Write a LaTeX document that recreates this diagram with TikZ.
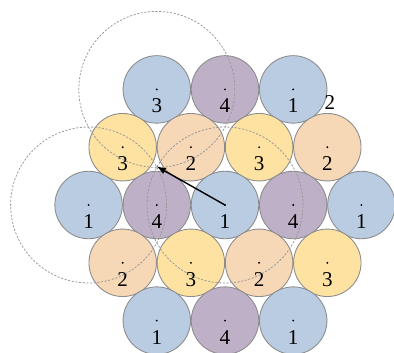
\documentclass[tikz,border=0pt]{standalone}
\usepackage{fontspec}
\setmainfont{Liberation Serif}
\definecolor{ballblue}{RGB}{186,204,226}
\definecolor{ballpurple}{RGB}{190,176,198}
\definecolor{ballyellow}{RGB}{254,226,162}
\definecolor{ballpeach}{RGB}{246,215,182}

\begin{document}
\begin{tikzpicture}[x=0.02cm,y=0.02cm]
\tikzstyle{ball}=[circle,draw=black!45,line width=0.5pt,minimum size=1.35cm,inner sep=0pt,
    font=\fontsize{12}{14}\selectfont,text height=0.94cm,text depth=0pt,
    path picture={\fill[black] (path picture bounding box.center) circle (0.6pt);}]
\tikzstyle{blueball}=[ball,fill=ballblue]
\tikzstyle{purpleball}=[ball,fill=ballpurple]
\tikzstyle{yellowball}=[ball,fill=ballyellow]
\tikzstyle{peachball}=[ball,fill=ballpeach]
\tikzstyle{guide}=[draw=black!40,dash pattern=on 1.2pt off 0.9pt,line width=0.45pt]
\useasboundingbox (-225,-147) rectangle (169,205);
% top row
\node[blueball] (a1) at (-68.2,115.6) {3};
\node[purpleball] (a2) at (0,115.6) {4};
\node[blueball] (a3) at (68.2,115.6) {1};
% second row
\node[yellowball] (b1) at (-102.3,57.8) {3};
\node[peachball] (b2) at (-34.1,57.8) {2};
\node[yellowball] (b3) at (34.1,57.8) {3};
\node[peachball] (b4) at (102.3,57.8) {2};
% middle row
\node[blueball] (c1) at (-136.4,0) {1};
\node[purpleball] (c2) at (-68.2,0) {4};
\node[blueball] (c3) at (0,0) {1};
\node[purpleball] (c4) at (68.2,0) {4};
\node[blueball] (c5) at (136.4,0) {1};
% fourth row
\node[peachball] (d1) at (-102.3,-57.8) {2};
\node[yellowball] (d2) at (-34.1,-57.8) {3};
\node[peachball] (d3) at (34.1,-57.8) {2};
\node[yellowball] (d4) at (102.3,-57.8) {3};
% bottom row
\node[blueball] (e1) at (-68.2,-115.6) {1};
\node[purpleball] (e2) at (0,-115.6) {4};
\node[blueball] (e3) at (68.2,-115.6) {1};
\node[font=\fontsize{12}{14}\selectfont] (lbl) at (105,102) {2};
% hole between b1, b2 and c2
\coordinate (hole) at (barycentric cs:b1=1,b2=1,c2=1);
\draw[guide] (a1.center) circle (1.56cm);
\draw[guide] (c1.center) circle (1.56cm);
\draw[guide] (c3.center) circle (1.56cm);
\draw[line width=0.8pt,-latex] (c3.center) -- (hole);
\end{tikzpicture}
\end{document}
